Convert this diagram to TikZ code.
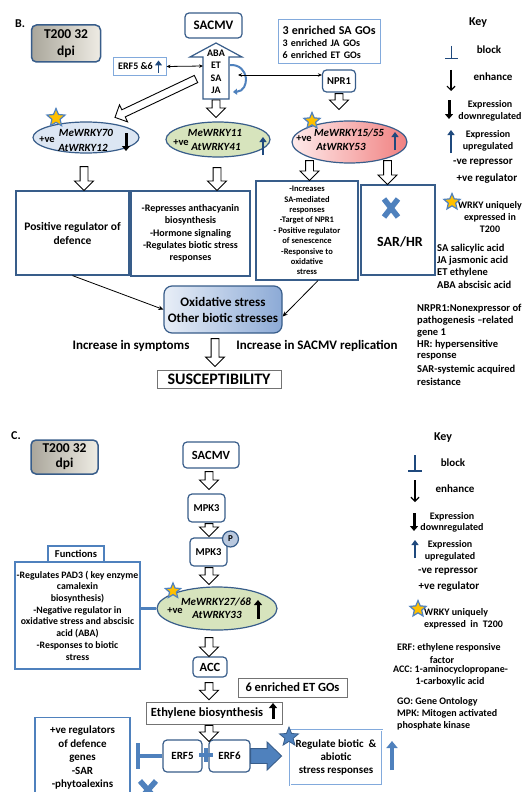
\documentclass[tikz,border=0pt]{standalone}
\usepackage{fontspec}
\setmainfont{Carlito}
\usetikzlibrary{calc,arrows.meta,shapes.geometric,shapes.arrows,positioning}

\definecolor{bordblue}{RGB}{56,93,138}
\definecolor{lineblue}{RGB}{130,170,220}
\definecolor{accent}{RGB}{79,129,189}
\definecolor{navy}{RGB}{31,73,125}
\definecolor{ellblue}{RGB}{220,230,243}
\definecolor{ellgreen}{RGB}{215,228,189}
\definecolor{ellred}{RGB}{240,128,128}
\definecolor{staryel}{RGB}{255,192,0}
\definecolor{greyL}{RGB}{170,166,155}
\definecolor{greyR}{RGB}{238,236,228}
\definecolor{oxL}{RGB}{232,238,247}
\definecolor{oxR}{RGB}{140,170,214}
\definecolor{phosfill}{RGB}{185,200,222}

% hollow block arrow from one point to another
\newcommand{\hollowarrow}[3][hollow]{%
  \path let \p1=#2, \p2=#3 in (\p1) node[#1, anchor=tail,
    rotate={atan2(\y2-\y1,\x2-\x1)},
    minimum height={veclen(\x2-\x1,\y2-\y1)}] {};}

\begin{document}
\begin{tikzpicture}[x=1pt, y=-1pt,
  every node/.style={inner sep=0pt},
  sz/.style 2 args={font=\bfseries\fontsize{#1}{#2}\selectfont},
  gene/.style={font=\bfseries\itshape\fontsize{11}{13}\selectfont},
  bbox/.style={draw=bordblue, line width=1.2pt, fill=white, align=center},
  rbox/.style={bbox, rounded corners=4pt},
  abox/.style={draw=accent, line width=1.2pt, fill=white, align=center},
  lbbox/.style={draw=lineblue, line width=1pt, fill=white, align=center},
  gbox/.style={draw=black!55, line width=0.6pt, fill=white, align=center},
  greybox/.style={draw=bordblue, line width=1.5pt, rounded corners=5pt, left color=greyL, right color=greyR, align=center},
  wrky/.style={ellipse, draw=bordblue, line width=1.2pt},
  wstar/.style={star, star points=5, star point ratio=2.2, draw=accent, line width=1.2pt, fill=staryel},
  hollow/.style={single arrow, draw, line width=0.9pt, fill=white, inner sep=3.5pt, outer sep=0pt, single arrow head extend=5.5pt, single arrow tip angle=90},
  fatarrow/.style={hollow, draw=bordblue, fill=accent, inner sep=7pt, single arrow head extend=6.5pt, single arrow tip angle=88},
  link/.style={line width=0.8pt, -{Stealth[length=5pt,width=4.5pt]}},
  both/.style={line width=0.8pt, {Stealth[length=4pt,width=3.5pt]}-{Stealth[length=4pt,width=3.5pt]}},
  enh/.style={line width=1.2pt, -{Straight Barb[length=4pt,width=8pt]}},
  downblk/.style={line width=3pt, -{Triangle[length=5pt,width=8pt]}},
  upblue/.style={navy, line width=2.5pt, -{Triangle[length=5pt,width=7pt]}},
  blk/.style={navy, line width=1.3pt},
  xmark/.style={accent, line width=5.5pt},
]
\useasboundingbox (0,0) rectangle (523,792);
\fill[white] (0,0) rectangle (523,792);

% ---------- panel B ----------
\node[sz={12}{14}] (labB) at (20,24) {B.};
\node[greybox, sz={13.5}{16.5}, minimum width=69, minimum height=37] (t200B) at (66,43.5) {T200 32\\dpi};
\node[rbox, sz={13}{15}, minimum width=57, minimum height=25] (sacmvB) at (213.5,25.5) {SACMV};

% hormone arrow
\draw[bordblue, line width=1.2pt, fill=white] (203,99) -- (203,57) -- (190,57) -- (216,43) -- (242,57) -- (229,57) -- (229,99) -- cycle;
\node[sz={10}{12.5}, align=center] (hormones) at (216,72) {ABA\\ET\\SA\\JA};
\coordinate (stemL) at (203,66);
\coordinate (stemS) at (216,100);
\coordinate (stemD) at (196,79);
\coordinate (arcB) at (238,75);
\draw[accent, line width=2pt, -{Triangle[length=4pt,width=6pt]}] (230,65) .. controls (250,64) and (250,91) .. (233,92);

\node[lbbox, sz={10}{12}, minimum width=53, minimum height=17] (erfB) at (139.5,66.5) {ERF5 \&6\hspace{8pt}};
\draw[upblue, line width=1.8pt] ($(erfB.east)+(-8,6)$) -- ++(0,-12);
\draw[both] (erfB.east) -- (stemL);

\node[lbbox, sz={10}{12}, minimum width=102, minimum height=44, text width=94, align=left] (goB) at (329.5,42)
  {{\fontsize{12}{14}\selectfont 3 enriched SA GOs}\\3 enriched JA GOs\\6 enriched ET GOs};
\node[rbox, sz={10.5}{12}, minimum width=33, minimum height=22] (npr1) at (339,81) {NPR1};
\draw[both] (arcB) -- (arcB -| npr1.west);

% WRKY ellipses
\node[wrky, fill=ellblue, minimum width=106, minimum height=31] (ell1) at (86,137.5) {};
\node[gene] (g70) at (86,133) {MeWRKY70};
\node[gene] (g12) at (83,148) {AtWRKY12};
\node[sz={10.5}{12}] (pve1) at (47,140) {+ve};
\draw[downblk] (126,133) -- (126,151);
\node[wstar, minimum size=19] (st1) at (56,118) {};

\node[wrky, fill=ellgreen, minimum width=104, minimum height=35] (ell2) at (218,139.5) {};
\node[gene] (g11) at (215,133) {MeWRKY11};
\node[gene] (g41) at (216,147) {AtWRKY41};
\node[sz={10.5}{12}] (pve2) at (181,143) {+ve};
\draw[upblue] (263,155) -- (263,137);

\node[wrky, left color=red!8, right color=ellred, minimum width=115, minimum height=42] (ell3) at (349.5,142) {};
\node[gene] (g15) at (349,133) {MeWRKY15/55};
\node[gene] (g53) at (341,147) {AtWRKY53};
\node[sz={10.5}{12}] (pve3) at (304,139) {+ve};
\draw[upblue] (395,150) -- (395,132);
\node[wstar, minimum size=17] (st3) at (312,121) {};

% function boxes
\node[bbox, sz={11.5}{14}, minimum width=113, minimum height=84] (posreg) at (72.5,233) {Positive regulator of\\defence};
\node[bbox, sz={10}{12.3}, minimum width=119, minimum height=85] (funcB) at (190.5,233.5)
  {-Represses anthacyanin\\biosynthesis\\-Hormone signaling\\-Regulates biotic stress\\responses};
\node[bbox, sz={8.5}{10.4}, minimum width=102, minimum height=99] (func53) at (307,230.5)
  {-Increases\\SA-mediated\\responses\\-Target of NPR1\\- Positive regulator\\of senescence\\-Responsive to\\oxidative\\stress};
\node[bbox, minimum width=74, minimum height=90] (sarhr) at (398,230) {};
\node[sz={14}{16}] (sarhrT) at (400,242) {SAR/HR};
\draw[xmark] (384,199) -- (398,217) (384,217) -- (398,199);

% hollow arrows
\hollowarrow{(stemD)}{([xshift=29pt,yshift=4pt]ell1.north)}
\hollowarrow{(stemS)}{([yshift=4pt]stemS |- ell2.north)}
\hollowarrow{([yshift=-1pt]npr1.south)}{([yshift=11pt]npr1.south |- ell3.north)}
\hollowarrow{([xshift=-2pt,yshift=-13pt]ell1.south)}{([xshift=-2pt]ell1.south |- posreg.north)}
\hollowarrow{([xshift=-1pt,yshift=-10pt]ell2.south)}{([xshift=-1pt]ell2.south |- funcB.north)}
\hollowarrow{([xshift=-40pt,yshift=3pt]ell3.south)}{([xshift=-40pt]ell3.south |- func53.north)}
\hollowarrow{([xshift=38pt,yshift=3pt]ell3.south)}{([xshift=38pt]ell3.south |- sarhr.north)}

\node[rbox, rounded corners=8pt, left color=oxL, right color=oxR, sz={13}{16}, minimum width=118, minimum height=47] (oxid) at (223,309.5)
  {Oxidative stress\\Other biotic stresses};
\draw[link] (posreg.south) -- (oxid.west);
\draw[link] ([xshift=11pt]func53.south) -- ([yshift=-7pt]oxid.east);

\node[sz={13}{15}] (symp) at (131,346) {Increase in symptoms};
\node[sz={13}{15}] (repl) at (317,346) {Increase in SACMV replication};
\node[gbox, line width=0.8pt, sz={16}{18}, minimum width=124, minimum height=18] (susc) at (219,379) {SUSCEPTIBILITY};
\hollowarrow{([xshift=-8pt,yshift=-5pt]oxid.south)}{([xshift=-8pt,yshift=3pt]oxid.south |- susc.north)}

% key B
\node[sz={12}{14}] (keyB) at (478,23) {Key};
\draw[blk] (451.5,46) -- (451.5,58) (445,58.5) -- (458,58.5);
\node[sz={11}{13}] (blockB) at (489,50) {block};
\draw[enh] (451,70) -- (451,91);
\node[sz={11}{13}] (enhB) at (493,77) {enhance};
\draw[downblk] (449,100) -- (449,119);
\node[sz={10}{12}, align=center] (downB) at (490,111) {Expression\\downregulated};
\draw[upblue] (451,153) -- (451,130);
\node[sz={10}{12}, align=center] (upB) at (488,141) {Expression\\upregulated};
\node[sz={11}{13}] (repB) at (483,163) {-ve repressor};
\node[sz={11}{13}] (regB) at (487,179) {+ve regulator};
\node[wstar, minimum size=17] (stkB) at (452,202) {};
\node[sz={10}{12}, align=center] (uniqB) at (490,217) {WRKY uniquely\\expressed in\\T200};
\foreach \t [count=\i] in {SA salicylic acid, JA jasmonic acid, ET ethylene, ABA abscisic acid}
  \node[sz={10.5}{12}, anchor=west] (abB\i) at (437,236+12.3*\i) {\t};
\foreach \t [count=\i] in {NRPR1:Nonexpressor of, pathogenesis –related, gene 1, HR: hypersensitive, response, SAR-systemic acquired, resistance}
  \node[sz={10.5}{12}, anchor=west] (glB\i) at (417,296+12.2*\i) {\t};

% ---------- panel C ----------
\node[sz={12}{14}] (labC) at (16,436) {C.};
\node[greybox, sz={13.5}{15}, minimum width=67, minimum height=34] (t200C) at (64.5,457) {T200 32\\dpi};
\node[rbox, sz={12.5}{14}, minimum width=56, minimum height=26] (sacmvC) at (211,455) {SACMV};
\node[rbox, sz={10.5}{12}, minimum width=37, minimum height=28] (mpkA) at (206.5,508) {MPK3};
\node[rbox, sz={10.5}{12}, minimum width=37, minimum height=28] (mpkB) at (208.5,552) {MPK3};
\node[circle, draw=bordblue, line width=1.2pt, fill=phosfill, minimum size=16, sz={9}{10}] (phos) at (230.5,539) {P};

\node[wrky, fill=ellgreen, minimum width=120, minimum height=43] (ell33) at (217,608.5) {};
\node[gene] (g27) at (216,602) {MeWRKY27/68};
\node[gene] (g33) at (217,615) {AtWRKY33};
\node[sz={10.5}{12}] (pve4) at (175,611) {+ve};
\draw[downblk] (258,619) -- (258,600);
\node[wstar, minimum size=16] (st4) at (173,591) {};

\node[abox, sz={10.5}{12}, minimum width=56, minimum height=16] (fnlab) at (76,554) {Functions};
\node[abox, sz={9.8}{11.7}, minimum width=125, minimum height=107] (fnbox) at (77.5,615.5)
  {-Regulates PAD3 ( key enzyme\\camalexin\\biosynthesis)\\-Negative regulator in\\oxidative stress and abscisic\\acid (ABA)\\-Responses to biotic\\stress};
\draw[accent, line width=2.5pt] (ell33.west -| fnbox.east) -- (ell33.west);

\node[rbox, sz={12.5}{14}, minimum width=34, minimum height=20] (acc) at (210,667) {ACC};
\node[gbox, sz={12.5}{14}, minimum width=109, minimum height=19] (etgo) at (292.5,687.5) {6 enriched ET GOs};
\node[gbox, sz={12.5}{14}, minimum width=136, minimum height=22] (eth) at (214,713) {Ethylene biosynthesis\hspace{14pt}};
\draw[downblk] (273,719) -- (273,703);
\node[rbox, sz={11}{13}, minimum width=39, minimum height=32] (erf5) at (182.5,756) {ERF5};
\node[rbox, sz={11}{13}, minimum width=41, minimum height=32] (erf6) at (229.5,756) {ERF6};

\coordinate (colC) at (209,0);
\hollowarrow{([yshift=-3pt]colC |- sacmvC.south)}{([yshift=4pt]colC |- mpkA.north)}
\hollowarrow{([yshift=-1pt]colC |- mpkA.south)}{([yshift=1pt]colC |- mpkB.north)}
\hollowarrow{([yshift=-1pt]colC |- mpkB.south)}{([yshift=2pt]colC |- ell33.north)}
\hollowarrow{([yshift=-7pt]colC |- ell33.south)}{(colC |- acc.north)}
\hollowarrow{([yshift=-5pt]colC |- acc.south)}{([yshift=2pt]colC |- eth.north)}
\hollowarrow{([yshift=-1pt]colC |- eth.south)}{([yshift=-2pt]colC |- erf5.north)}
\draw[accent, line width=4pt] (206,748) -- (206,762) (199,755) -- (213,755);

% block of defence genes
\coordinate (blkC) at (138,756);
\draw[accent, line width=4.5pt] (erf5.west) -- (blkC);
\draw[accent, line width=4.5pt] ($(blkC)+(0,-13)$) -- ($(blkC)+(0,13)$);
\node[abox, sz={11}{13.5}, minimum width=95, minimum height=80, anchor=north] (defgenes) at (82.5,717)
  {+ve regulators\\of defence\\genes\\-SAR\\-phytoalexins};
\draw[xmark] (140,781) -- (156,799) (140,799) -- (156,781);

\node[draw=lineblue, line width=0.8pt, double=white, double distance=0.8pt, sz={11}{13}, align=center, minimum width=92, minimum height=55] (reg) at (336,757.5)
  {Regulate biotic \ \&\\abiotic\\stress responses};
\hollowarrow[fatarrow]{(erf6.east)}{([xshift=-8pt]erf6.east -| reg.west)}
\node[star, star points=5, star point ratio=2.3, fill=accent, draw=bordblue, line width=0.8pt, minimum size=20] (stReg) at (289,737) {};
\draw[accent, line width=4pt, -{Triangle[length=7pt,width=11pt]}] (392,770) -- (392,741);

% key C
\node[sz={12}{14}] (keyC) at (443,438) {Key};
\draw[blk] (415,455) -- (415,470) (408,471) -- (422,471);
\node[sz={11}{13}] (blockC) at (453,463) {block};
\draw[enh] (415,480) -- (415,502);
\node[sz={11}{13}] (enhC) at (455,489) {enhance};
\draw[downblk] (414,513) -- (414,531);
\node[sz={10}{11.5}, align=center] (downC) at (452,522.5) {Expression\\downregulated};
\draw[upblue] (415,558) -- (415,540);
\node[sz={10}{11.5}, align=center] (upC) at (450,551) {Expression\\upregulated};
\node[sz={11}{13}] (repC) at (448,572) {-ve repressor};
\node[sz={11}{13}] (regC) at (449,587) {+ve regulator};
\node[wstar, minimum size=17] (stkC) at (418,609) {};
\node[sz={10}{12}, align=left, anchor=west] (uniqC) at (424,619) {WRKY uniquely\\expressed\ \ in\ \ T200};
\node[sz={10}{12}, anchor=west] (erfdef) at (397,648) {ERF: ethylene responsive};
\node[sz={10}{12}] (erfdef2) at (442,660) {factor};
\node[sz={10}{12}, anchor=west] (accdef) at (393,670) {ACC: 1-aminocyclopropane-};
\node[sz={10}{12}] (accdef2) at (450,682) {1-carboxylic acid};
\foreach \t [count=\i] in {GO: Gene Ontology, MPK: Mitogen activated, phosphate kinase}
  \node[sz={10}{12}, anchor=west] (defC\i) at (397,690+12*\i) {\t};
\end{tikzpicture}
\end{document}
